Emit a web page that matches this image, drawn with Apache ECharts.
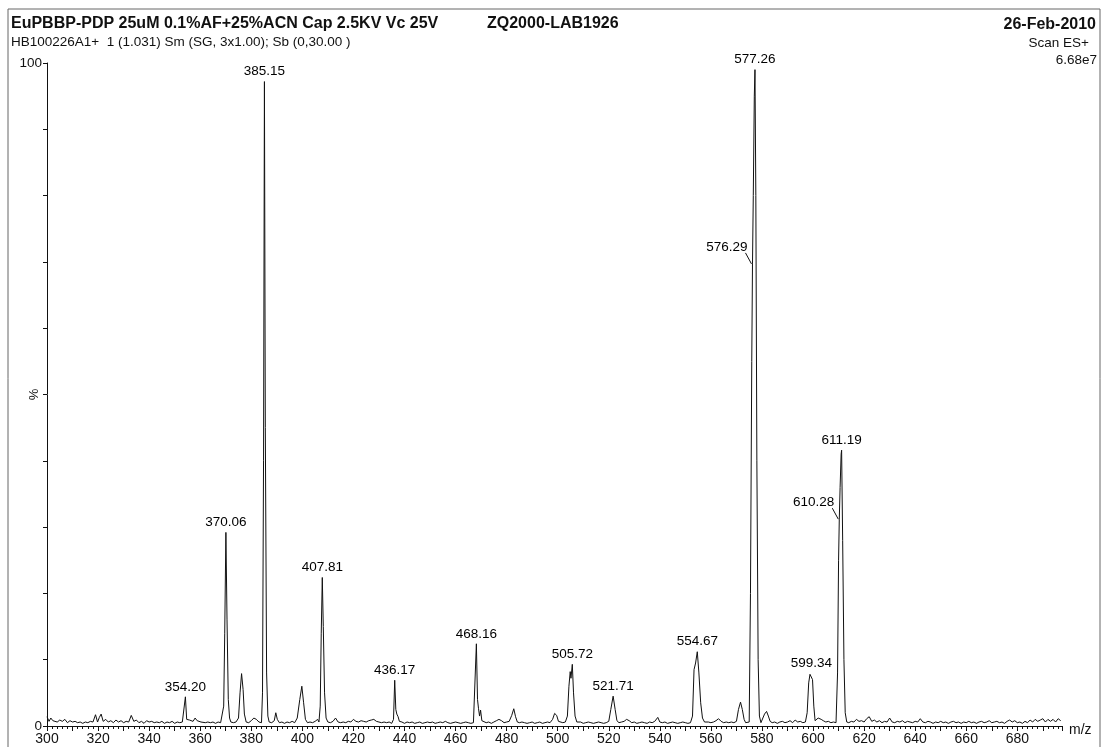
<!DOCTYPE html>
<html>
<head>
<meta charset="utf-8">
<script src="https://cdn.jsdelivr.net/npm/echarts@6/dist/echarts.min.js"></script>
<style>html,body{margin:0;padding:0;background:#fff}#c{width:1102px;height:747px}</style>
</head>
<body>
<div id="c"></div>
<script>
// ---- data ----
const titleMain = 'EuPBBP-PDP 25uM 0.1%AF+25%ACN Cap 2.5KV Vc 25V';
const titleId = 'ZQ2000-LAB1926';
const subTitle = 'HB100226A1+  1 (1.031) Sm (SG, 3x1.00); Sb (0,30.00 )';
const dateText = '26-Feb-2010';
const scanText = 'Scan ES+';
const maxIntensityText = '6.68e7';
const xTickStep = 20;

const spectrum = [
[300,1.4],[300.8,0.7],[301.5,1.2],[302.3,0.8],[303,1.0],[304,0.6],[305,0.9],[306,0.7],[307,1.0],[308,0.5],[309,0.8],[310,0.6],[311,0.7],[312,0.5],[313,0.6],[314,0.4],[315,0.6],[316,0.5],[317,0.7],[318,0.6],[319,1.7],[319.8,0.6],[320.5,1.3],[321.2,1.8],[322,0.7],[323,1.0],[324,0.6],[325,0.8],[326,0.5],[327,0.9],[328,0.6],[329,0.8],[330,0.5],[331,0.7],[332,0.6],[333,1.6],[334,0.7],[335,0.9],[336,0.5],[337,0.7],[338,0.4],[339,0.8],[340,0.6],[341,0.7],[342,0.5],[343,0.6],[344,0.5],[345,0.7],[346,0.4],[347,0.6],[348,0.5],[349,0.7],[350,0.4],[351,0.6],[352,0.5],[353,0.6],
[353.6,0.8],[354.2,4.4],[354.7,1.0],[355.2,1.3],[355.8,0.9],[356.5,1.0],[357.2,0.7],[358,1.2],[358.8,0.8],[359.5,0.9],[360.3,0.6],[361,0.7],[362,0.5],[363,0.6],[364,0.5],[365,0.6],[366,0.4],[367,0.6],[368,0.5],[368.6,0.7],
[369.2,3],[369.6,14],[370.06,29.2],[370.5,16],[371,4],[371.5,1.2],[372,0.6],[373,0.5],[374,0.6],[375,1.2],[375.6,5],[376.2,7.9],[376.8,5.5],[377.3,1.8],[378,0.6],[379,0.5],[380,0.8],[381,1.2],[382,1.0],[383,0.6],[384,0.5],
[384.4,5],[384.8,40],[385.15,97.2],[385.5,45],[386,8],[386.5,1.5],[387,0.6],[388,0.5],[389,0.8],[389.6,2.0],[390.2,1.0],[391,0.5],[392,0.6],[393,0.4],[394,0.6],[395,0.5],[396,0.7],[397,0.5],[398,1.2],[399,4],[399.8,6.0],[400.5,3.5],[401.2,1],[402,0.5],[403,0.6],[404,0.5],[405,0.7],[406,1.0],[406.5,0.6],
[407,3],[407.4,14],[407.81,22.4],[408.2,15],[408.7,5],[409.3,1.2],[410,0.6],[411,0.5],[412,0.7],[413,1.2],[414,0.6],[415,0.5],[416,0.6],[417,0.5],[418,0.7],[419,0.6],[420,1.0],[421,0.7],[422,0.6],[423,0.8],[424,0.7],[425,0.6],[426,0.8],[427,0.9],[428,1.0],[429,0.7],[430,0.6],[431,0.5],[432,0.6],[433,0.5],[434,0.6],[435,0.4],
[435.7,1],[436.17,6.9],[436.6,2.5],[437,1.8],[437.5,1.4],[438,0.7],[439,0.6],[440,0.4],[441,0.6],[442,0.5],[443,0.6],[444,0.4],[445,0.5],[446,0.6],[447,0.4],[448,0.5],[449,0.6],[450,0.5],[451,0.6],[452,0.4],[453,0.5],[454,0.6],[455,0.5],[456,0.7],[457,0.5],[458,0.4],[459,0.5],[460,0.6],[461,0.5],[462,0.4],[463,0.5],[464,0.6],[465,0.5],[466,0.4],[467,0.5],[467.7,0.6],
[468.16,12.4],[468.6,4],[469,2.6],[469.4,1.5],[469.8,2.4],[470.3,0.8],[471,0.6],[472,0.5],[473,0.6],[474,0.4],[475,0.6],[476,0.8],[477,1.0],[478,0.8],[479,0.5],[480,0.6],[481,0.7],[482,1.6],[482.8,2.6],[483.5,1.4],[484.2,0.6],[485,0.5],[486,0.6],[487,0.5],[488,0.4],[489,0.5],[490,0.6],[491,0.4],[492,0.5],[493,0.6],[494,0.4],[495,0.5],[496,0.6],[497,0.5],[498,1.0],[498.8,1.9],[499.6,1.6],[500.3,0.7],[501,0.6],[502,0.5],[503,0.6],[503.8,1.5],
[504.4,6],[504.9,8.2],[505.2,7.2],[505.72,9.3],[506.2,5],[506.8,1.5],[507.5,0.6],[508,0.5],[509,0.6],[510,0.4],[511,0.5],[512,0.6],[513,0.5],[514,0.4],[515,0.5],[516,0.6],[517,0.5],[518,0.4],[519,0.5],[520,0.7],[520.8,2.5],[521.71,4.5],[522.5,2.5],[523.2,0.8],[524,0.5],[525,0.6],[526,0.7],[527,1.0],[528,0.8],[529,0.5],[530,0.6],[531,0.4],[532,0.5],[533,0.6],[534,0.5],[535,0.4],[536,0.6],[537,0.5],[538,0.7],[539.2,1.3],[540,0.6],[541,0.5],[542,0.6],[543,0.4],[544,0.5],[545,0.6],[546,0.5],[547,0.4],[548,0.5],[549,0.6],[550,0.5],[551,0.4],[552,0.5],[552.8,1.5],
[553.4,8.5],[554,9.5],[554.67,11.2],[555.3,8],[556,3.5],[556.7,1.2],[557.5,0.6],[558,0.5],[559,0.6],[560,0.5],[561,0.6],[562,0.8],[563,1.1],[564,0.7],[565,0.5],[566,0.6],[567,0.5],[568,0.6],[569,0.5],[570,0.7],[570.8,2.5],[571.6,3.6],[572.3,2.5],[573,1.0],[573.6,0.5],[574.3,0.4],[575,0.6],
[575.5,20],[576,55],[576.29,69.7],[576.6,80],[577,95],[577.26,99],[577.6,80],[578,40],[578.5,10],[579,1.5],[579.6,0.5],[580.3,0.8],[581,1.8],[581.8,2.2],[582.5,1.5],[583.2,0.7],[584,0.5],[585,0.6],[586,0.4],[587,0.6],[588,0.7],[589,0.5],[590,0.6],[591,0.8],[592,0.5],[593,0.9],[594,0.6],[595,0.7],[596,0.5],[597,0.6],[597.7,2],
[598.3,6.5],[598.8,7.8],[599.34,8.0],[599.8,7],[600.3,3],[600.8,0.8],[601.4,0.6],[602,1.2],[602.6,1.5],[603.2,1.0],[604,0.8],[605,0.6],[606,0.7],[607,0.5],[608,0.6],[609,0.5],[609.6,8],
[610,25],[610.28,31.2],[610.6,36],[611,41],[611.19,41.6],[611.6,28],[612.1,10],[612.6,2],[613.2,0.6],[614,0.5],[615,0.7],[616,0.6],[617,1.0],[618,0.7],[619,0.8],[620,0.6],[621,1.1],[622,1.4],[623,0.7],[624,0.9],[625,0.6],[626,0.8],[627,0.5],[628,0.7],[629,0.6],[630,1.2],[631,0.6],[632,0.5],[633,0.7],[634,0.6],[635,0.8],[636,0.5],[637,0.7],[638,0.6],[639,0.5],[640,0.7],[641,0.6],[642,1.1],[643,0.6],[644,0.5],[645,0.7],[646,0.6],[647,0.4],[648,0.6],[649,0.5],[650,0.7],[651,0.5],[652,0.6],[653,0.4],[654,0.6],[655,0.7],[656,0.5],[657,0.6],[658,0.4],[659,0.6],[660,0.5],[661,0.7],[662,0.5],[663,0.6],[664,0.4],[665,0.6],[666,0.7],[667,0.5],[668,0.6],[669,0.8],[670,0.5],[671,0.6],[672,0.7],[673,0.5],[674,0.6],[675,0.4],[676,0.7],[677,0.9],[678,0.6],[679,0.8],[680,0.5],[681,0.6],[682,0.4],[683,0.7],[684,0.5],[685,0.9],[686,0.6],[687,1.0],[688,0.7],[689,0.9],[690,1.1],[691,0.6],[692,1.0],[693,0.7],[694,1.0],[695,0.6],[696,1.1],[697,0.8]
];

// labelled peaks (label above)
const peakLabelsTop = [[354.20,4.4],[370.06,29.2],[385.15,97.2],[407.81,22.4],[436.17,6.9],[468.16,12.4],[505.72,9.3],[521.71,4.5],[554.67,11.2],[577.26,99],[599.34,8.0],[611.19,41.6]];
// labelled shoulders (label to the upper left with leader)
const peakLabelsLeft = [[576.29,69.7],[610.28,31.2]];

// ---- chart ----
const FONT = "'Liberation Sans', Arial, sans-serif";
const LABEL_FONT = "13.5px " + FONT;
const chart = echarts.init(document.getElementById('c'), null, {renderer: 'canvas'});
chart.setOption({
  animation: false,
  backgroundColor: '#fff',
  grid: {left: 47, right: 40, top: 63, bottom: 21, containLabel: false, outerBoundsMode: 'none'},
  xAxis: {
    type: 'value', min: 300, max: 697.5, interval: 10,
    name: 'm/z', nameLocation: 'end', nameGap: 7,
    nameTextStyle: {fontFamily: FONT, fontSize: 14, color: '#111', verticalAlign: 'top', padding: [-3, 0, 0, 0]},
    axisLine: {show: true, lineStyle: {color: '#111', width: 1}},
    axisTick: {show: true, length: 5, lineStyle: {color: '#111'}},
    minorTick: {show: true, splitNumber: 5, length: 3, lineStyle: {color: '#111'}},
    axisLabel: {fontFamily: FONT, fontSize: 14, color: '#111', margin: 6, showMaxLabel: false,
      formatter: v => (v % xTickStep === 0 ? String(v) : '')},
    splitLine: {show: false}
  },
  yAxis: {
    type: 'value', min: 0, max: 100, interval: 10,
    name: '%', nameLocation: 'middle', nameGap: 6, nameRotate: 90, nameMoveOverlap: false,
    nameTextStyle: {fontFamily: FONT, fontSize: 13, color: '#111'},
    axisLine: {show: true, lineStyle: {color: '#111', width: 1}},
    axisTick: {show: true, length: 4, lineStyle: {color: '#111'}},
    axisLabel: {fontFamily: FONT, fontSize: 13.5, color: '#111', margin: 5,
      formatter: v => (v === 0 || v === 100 ? String(v) : '')},
    splitLine: {show: false}
  },
  graphic: [
    {type: 'rect', shape: {x: 8, y: 9, width: 1092, height: 760}, style: {fill: 'none', stroke: '#666', lineWidth: 1}, silent: true},
    {type: 'text', left: 11, top: 16, style: {text: titleMain, font: "bold 16px " + FONT, fill: '#111'}},
    {type: 'text', left: 487, top: 16, style: {text: titleId, font: "bold 16px " + FONT, fill: '#111'}},
    {type: 'text', left: 11, top: 35, style: {text: subTitle, font: "13.5px " + FONT, fill: '#111'}},
    {type: 'text', right: 6, top: 17, style: {text: dateText, font: "bold 16px " + FONT, fill: '#111'}},
    {type: 'text', right: 13, top: 36, style: {text: scanText, font: "13.5px " + FONT, fill: '#111'}},
    {type: 'text', right: 5, top: 53, style: {text: maxIntensityText, font: "13.5px " + FONT, fill: '#111'}}
  ],
  series: [
    {
      type: 'line', data: spectrum, showSymbol: false, symbol: 'none',
      lineStyle: {color: '#111', width: 1}, z: 2, silent: true
    },
    {
      type: 'custom', data: peakLabelsTop, z: 3, silent: true,
      renderItem: (params, api) => {
        const mz = api.value(0);
        const p = api.coord([mz, api.value(1)]);
        return {type: 'text', x: p[0], y: p[1] - 3,
          style: {text: mz.toFixed(2), font: LABEL_FONT, fill: '#000', align: 'center', verticalAlign: 'bottom'}};
      }
    },
    {
      type: 'custom', data: peakLabelsLeft, z: 3, silent: true,
      renderItem: (params, api) => {
        const mz = api.value(0);
        const p = api.coord([mz, api.value(1)]);
        return {
          type: 'group',
          children: [
            {type: 'line', shape: {x1: p[0] - 1, y1: p[1], x2: p[0] - 7, y2: p[1] - 11},
             style: {stroke: '#111', lineWidth: 1}},
            {type: 'text', x: p[0] - 5, y: p[1] - 10,
             style: {text: mz.toFixed(2), font: LABEL_FONT, fill: '#000', align: 'right', verticalAlign: 'bottom'}}
          ]
        };
      }
    }
  ]
});
</script>
</body>
</html>
